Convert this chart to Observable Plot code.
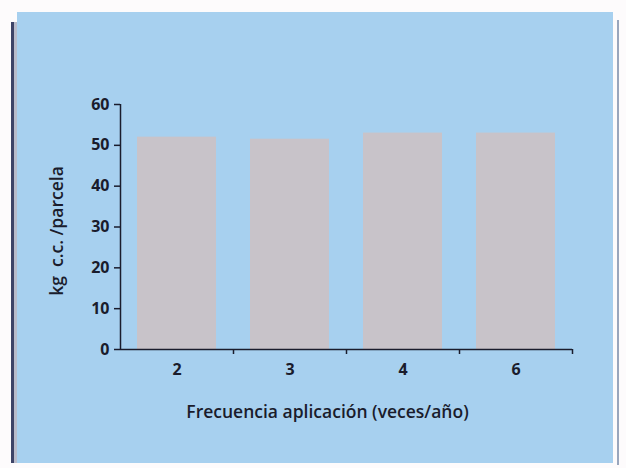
<!DOCTYPE html>
<html>
<head>
<meta charset="utf-8">
<script src="https://cdn.jsdelivr.net/npm/d3@7"></script>
<script src="https://cdn.jsdelivr.net/npm/@observablehq/plot@0.6"></script>
<style>
  html, body { margin: 0; padding: 0; background: #fdfbfc; }
  #page { position: relative; width: 626px; height: 468px; overflow: hidden; }
  #panel { position: absolute; left: 17px; top: 12px; width: 596px; height: 451px; background: #a7d0ef; }
  #edgeL { position: absolute; left: 11px; top: 22px; width: 3px; height: 441px; background: #3e4468; }
  #edgeL2 { position: absolute; left: 14px; top: 22px; width: 3px; height: 441px; background: #b9bccb; }
  #edgeR { position: absolute; left: 617px; top: 20px; width: 2px; height: 445px; background: #9aa6bd; }
  #chart { position: absolute; left: 0; top: 0; }
</style>
</head>
<body>
<div id="page">
  <div id="panel"></div>
  <div id="edgeL"></div>
  <div id="edgeL2"></div>
  <div id="edgeR"></div>
  <div id="chart"></div>
</div>
<script>
// Application frequency (times per year) and yield in kg c.c. per plot
const frecuencias = ["2", "3", "4", "6"];
const rendimiento = [52, 51.5, 53, 53];
const yTicks = [0, 10, 20, 30, 40, 50, 60];
const tituloX = "Frecuencia aplicación (veces/año)";
const tituloY = "kg  c.c. /parcela";

const datos = frecuencias.map((f, i) => ({frecuencia: f, kg: rendimiento[i]}));

const ink = "#1a1c2c";
const font = "'Open Sans', 'DejaVu Sans', sans-serif";

const chart = Plot.plot({
  width: 626,
  height: 468,
  marginLeft: 120,
  marginRight: 54,
  marginTop: 104,
  marginBottom: 119,
  style: {background: "transparent", fontFamily: font, color: ink},
  x: {domain: frecuencias, padding: 0},
  y: {domain: [0, 60]},
  marks: [
    Plot.barY(datos, {
      x: "frecuencia", y: "kg",
      fill: "#c8c3c9",
      insetLeft: 17, insetRight: 17
    }),
    // y axis line
    Plot.ruleX([frecuencias[0]], {y1: 0, y2: 60, dx: -56.5, stroke: ink, strokeWidth: 1.5}),
    // x axis line
    Plot.ruleY([0], {stroke: ink, strokeWidth: 1.5}),
    // downward ticks at the category boundaries
    Plot.ruleX(frecuencias, {y1: 0, y2: 0, insetBottom: -5, dx: 56.5, stroke: ink, strokeWidth: 1.5}),
    Plot.axisY({
      ticks: yTicks, tickSize: 6, tickPadding: 5, label: null,
      fontSize: 16, fontWeight: "bold", stroke: ink, strokeWidth: 1.5
    }),
    Plot.axisX({
      tickSize: 0, tickPadding: 14, label: null,
      fontSize: 16, fontWeight: "bold"
    }),
    Plot.text([tituloX], {
      frameAnchor: "bottom", dx: -19, dy: 68,
      fontSize: 17.5, fontWeight: "600", fill: ink
    }),
    Plot.text([tituloY], {
      frameAnchor: "left", textAnchor: "middle", rotate: -90, dx: -63, dy: 4,
      fontSize: 17.5, fontWeight: "600", fill: ink
    })
  ]
});

document.getElementById("chart").append(chart);
</script>
</body>
</html>
